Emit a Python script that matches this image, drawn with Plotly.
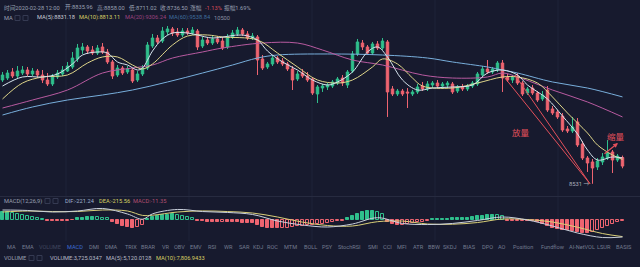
import pandas as pd
import plotly.graph_objects as go

# ---------------------------------------------------------------------------
# BTC 4-hour candles, last bar 2020-02-28 12:00
# ---------------------------------------------------------------------------
opens = [9735, 9758, 9828, 9781, 9816, 9851, 9805, 9839, 9793, 9735,
         9689, 9770, 9805, 9839, 9886, 9979, 10083, 10118, 10083, 10048,
         10118, 10060, 9944, 9793, 9874, 9828, 9851, 9735, 9805, 9874,
         10129, 10222, 10187, 10292, 10327, 10292, 10257, 10303, 10280, 10303,
         10129, 10199, 10164, 10211, 10187, 10118, 10234, 10269, 10315, 10269,
         10222, 10234, 9979, 9886, 9921, 9990, 9955, 9921, 9863, 9747,
         9816, 9781, 9747, 9573, 9642, 9654, 9665, 9700, 9758, 9677,
         9839, 10037, 10164, 10118, 10048, 10153, 10106, 10176, 9631, 9573,
         9607, 9596, 9573, 9596, 9665, 9631, 9677, 9700, 9665, 9677,
         9689, 9607, 9654, 9631, 9665, 9689, 9793, 9863, 9828, 9851,
         9932, 9770, 9735, 9781, 9700, 9584, 9642, 9584, 9515, 9619,
         9399, 9364, 9317, 9167, 9143, 9248, 8993, 8830, 8784, 8726,
         8784, 8830, 8900, 8807, 8835.96]
highs = [9828, 9851, 9874, 9897, 9897, 9886, 9874, 9863, 9851, 9816,
         9805, 9851, 9897, 9944, 10060, 10153, 10164, 10141, 10129, 10141,
         10164, 10095, 9967, 9909, 9897, 9897, 9874, 9839, 9909, 10176,
         10269, 10257, 10350, 10361, 10350, 10338, 10338, 10338, 10350, 10327,
         10234, 10234, 10245, 10245, 10234, 10269, 10315, 10350, 10338, 10303,
         10280, 10257, 10025, 9944, 10025, 10013, 9990, 9944, 9897, 9839,
         9863, 9828, 9770, 9677, 9689, 9700, 9735, 9770, 9793, 9851,
         10071, 10211, 10199, 10141, 10176, 10187, 10222, 10199, 9665, 9631,
         9631, 9642, 9619, 9689, 9712, 9723, 9723, 9735, 9712, 9723,
         9712, 9677, 9689, 9689, 9723, 9828, 9897, 9967, 9886, 9955,
         9967, 9805, 9793, 9816, 9723, 9654, 9677, 9607, 9607, 9665,
         9433, 9387, 9352, 9201, 9306, 9294, 9027, 8853, 8819, 8830,
         8888, 9039, 8923, 8877, 8858.00]
lows = [9712, 9735, 9758, 9758, 9793, 9781, 9781, 9758, 9700, 9665,
        9665, 9747, 9781, 9828, 9863, 9944, 10037, 10037, 10025, 10025,
        10037, 9921, 9747, 9770, 9793, 9805, 9700, 9712, 9781, 9851,
        10106, 10153, 10164, 10257, 10245, 10234, 10234, 10257, 10257, 10083,
        10106, 10141, 10141, 10153, 10083, 10095, 10211, 10245, 10245, 10199,
        10199, 9793, 9851, 9863, 9897, 9921, 9897, 9839, 9619, 9723,
        9758, 9712, 9561, 9468, 9596, 9619, 9642, 9677, 9665, 9642,
        9816, 10013, 10083, 10025, 10025, 10083, 10083, 9306, 9549, 9549,
        9549, 9410, 9549, 9573, 9607, 9607, 9642, 9642, 9631, 9642,
        9573, 9584, 9607, 9607, 9642, 9665, 9770, 9805, 9805, 9828,
        9596, 9712, 9700, 9677, 9549, 9561, 9561, 9480, 9491, 9364,
        9329, 9283, 9132, 9120, 9120, 8958, 8807, 8668, 8531, 8691,
        8749, 8807, 8656, 8784, 8711.02]
closes = [9793, 9816, 9781, 9839, 9851, 9805, 9839, 9793, 9735, 9689,
          9781, 9816, 9851, 9897, 9990, 10106, 10118, 10071, 10048, 10106,
          10060, 9944, 9781, 9874, 9816, 9863, 9723, 9805, 9874, 10141,
          10222, 10176, 10303, 10327, 10280, 10257, 10303, 10280, 10315, 10118,
          10199, 10164, 10211, 10176, 10106, 10234, 10280, 10315, 10269, 10222,
          10245, 9967, 9874, 9921, 9990, 9944, 9921, 9863, 9735, 9805,
          9781, 9735, 9584, 9654, 9665, 9677, 9712, 9747, 9700, 9828,
          10037, 10176, 10118, 10048, 10153, 10106, 10187, 9596, 9573, 9607,
          9573, 9584, 9596, 9654, 9631, 9689, 9700, 9665, 9689, 9700,
          9596, 9654, 9631, 9665, 9700, 9805, 9863, 9828, 9863, 9932,
          9758, 9735, 9770, 9700, 9573, 9631, 9584, 9503, 9561, 9387,
          9352, 9306, 9155, 9143, 9190, 8981, 8830, 8772, 8714, 8795,
          8842, 8888, 8807, 8853, 8736.50]

# Moving averages, sampled at candle indices
ma5_idx = [0, 4, 8, 11, 14, 16, 19, 21, 23, 25, 27, 28, 30, 32, 34, 37, 39, 42,
           48, 51, 53, 56, 59, 62, 65, 67, 70, 73, 75, 77, 80, 83, 86, 90, 94,
           97, 100, 103, 105, 109, 112, 115, 117, 119, 122, 124]
ma5_val = [9665, 9770, 9770, 9805, 9921, 10025, 10060, 10048, 9944, 9909,
           9851, 9874, 10071, 10211, 10280, 10280, 10257, 10222, 10257, 10199,
           10071, 9944, 9851, 9735, 9677, 9712, 9828, 10060, 10118, 10002,
           9735, 9619, 9642, 9654, 9677, 9816, 9851, 9793, 9677, 9515,
           9317, 9109, 8923, 8807, 8842, 8831.18]
ma10_idx = [0, 4, 8, 13, 17, 20, 23, 26, 28, 30, 34, 37, 41, 44, 51, 55, 59,
            63, 67, 70, 74, 76, 79, 82, 84, 90, 95, 100, 103, 107, 110, 113,
            117, 119, 122, 124]
ma10_val = [9515, 9700, 9770, 9793, 9932, 10002, 10002, 9909, 9863, 9921,
            10141, 10245, 10257, 10234, 10199, 10048, 9886, 9735, 9700, 9735,
            9886, 9979, 9921, 9758, 9665, 9642, 9700, 9770, 9770, 9700,
            9538, 9352, 9120, 8981, 8865, 8813.11]
ma20_idx = [0, 6, 13, 20, 26, 30, 34, 40, 44, 52, 59, 64, 70, 76, 84, 90, 97,
            100, 103, 110, 117, 124]
ma20_val = [9410, 9503, 9619, 9816, 9874, 9909, 9990, 10060, 10106, 10164,
            10164, 10083, 9967, 9909, 9793, 9758, 9770, 9816, 9770, 9619,
            9480, 9306.24]
ma60_idx = [0, 6, 13, 20, 26, 33, 40, 46, 51, 55, 65, 76, 85, 90, 97, 100,
            103, 110, 117, 124]
ma60_val = [9329, 9422, 9503, 9561, 9619, 9712, 9816, 9909, 9990, 10025,
            10037, 10025, 9990, 9944, 9886, 9851, 9816, 9712, 9642, 9538.84]

# MACD(12,26,9) histogram, one value per candle
macd_hist = [104, 104, 91, 78, 65, 52, 39, 26, 13,
             -13, -13, -13, -13, -10, -5,
             20, 30, 35, 38, 35, 30, 20,
             -26, -52, -78, -91, -104, -91, -65,
             13, 39, 52, 65, 70, 72, 68, 55, 42, 26,
             -13, -16, -22, -26, -26, -22, -26, -26, -30, -35, -39, -42,
             -65, -91, -104, -104, -108, -104, -100, -91,
             -80, -75, -65, -62, -55, -50,
             -39, -26, -15, -10,
             26, 52, 78, 104, 117, 117, 104, 78,
             -26, -52, -65, -62, -52, -39, -26, -20, -13,
             10, 12, 13, 15, 22, 26, 26, 30,
             39, 52, 55, 62, 65, 62, 52,
             -10, -13, -10, -8, -10, -13,
             -26, -52, -78, -100,
             -117, -125, -130, -140, -150, -165, -170, -156,
             -130, -104, -78,
             -52, -26, -11.35]
line_idx = [0, 5, 10, 15, 20, 25, 28, 30, 35, 40, 45, 50, 55, 60, 65, 70, 75,
            80, 85, 90, 95, 100, 105, 110, 115, 120, 124]
dif_val = [130, 124, 104, 117, 150, 78, 10, 80, 137, 110, 98, 72, -13, -65,
           -91, -52, 30, -45, -59, -45, -6, 39, 0, -78, -169, -228, -221.24]
dea_val = [104, 117, 110, 110, 130, 117, 60, 62, 104, 118, 110, 91, 39, -28,
           -72, -78, -22, -14, -52, -55, -33, 13, 6, -26, -94, -176, -215.56]

tabs = ["MA", "EMA", "VOLUME", "MACD", "DMI", "DMA", "TRIX", "BRAR", "VR",
        "OBV", "EMV", "RSI", "WR", "SAR", "KDJ", "ROC", "MTM", "BOLL", "PSY",
        "StochRSI", "SMI", "CCI", "MFI", "ATR", "BBW", "SKDJ", "BIAS", "DPO",
        "AO", "Position", "Fundflow", "AI-NetVOL", "LSUR", "BASIS"]
tab_x = [5, 20, 37, 65, 87, 103, 123, 139, 160, 172, 188, 206, 222, 237, 251,
         265, 282, 302, 320, 336, 366, 381, 395, 411, 426, 441, 461, 480, 496,
         511, 539, 567, 595, 614]

# ---------------------------------------------------------------------------
W, H = 640, 267
BG = "#171a2e"
UP = "#2fbf8c"
DOWN = "#ee6470"
MARK = "#e4505b"
FONT = "Roboto, Noto Sans CJK SC, sans-serif"
CJK = "Noto Sans CJK SC, sans-serif"
SMALL = 5.7

times = pd.date_range(end="2020-02-28 12:00", periods=len(closes), freq="4h")
step = pd.Timedelta(hours=4)
x_range = [times[0] - step / 2, times[-1] + step * 3.5]

fig = go.Figure()

fig.add_trace(go.Candlestick(
    x=times, open=opens, high=highs, low=lows, close=closes,
    increasing=dict(line=dict(color=UP, width=1), fillcolor=UP),
    decreasing=dict(line=dict(color=DOWN, width=1), fillcolor=DOWN),
    whiskerwidth=0, hoverinfo="skip", showlegend=False,
    xaxis="x", yaxis="y"))

for idx, vals, col in [(ma60_idx, ma60_val, "#78aedb"),
                       (ma20_idx, ma20_val, "#b85aa0"),
                       (ma10_idx, ma10_val, "#ded58a"),
                       (ma5_idx, ma5_val, "#d6e4ee")]:
    fig.add_trace(go.Scatter(
        x=[times[i] for i in idx], y=vals, mode="lines",
        line=dict(color=col, width=1, shape="spline", smoothing=1.0),
        hoverinfo="skip", showlegend=False, xaxis="x", yaxis="y"))

# MACD histogram: shrinking bars are drawn hollow
fills, edges = [], []
for k, v in enumerate(macd_hist):
    c = UP if v >= 0 else DOWN
    prev = macd_hist[k - 1] if k else 0
    hollow = k > 0 and (v * prev > 0) and abs(v) < abs(prev)
    fills.append(BG if hollow else c)
    edges.append(c)
fig.add_trace(go.Bar(
    x=times, y=macd_hist, width=step.total_seconds() * 1000 * 0.62,
    marker=dict(color=fills, line=dict(color=edges, width=1)),
    hoverinfo="skip", showlegend=False, xaxis="x2", yaxis="y2"))
fig.add_trace(go.Scatter(
    x=[times[i] for i in line_idx], y=dea_val, mode="lines",
    line=dict(color="#d9cf78", width=1, shape="spline"),
    hoverinfo="skip", showlegend=False, xaxis="x2", yaxis="y2"))
fig.add_trace(go.Scatter(
    x=[times[i] for i in line_idx], y=dif_val, mode="lines",
    line=dict(color="#c9d0dc", width=1, shape="spline"),
    hoverinfo="skip", showlegend=False, xaxis="x2", yaxis="y2"))


def py(p):
    return 1 - p / H


price_top, price_bot = 0, 196
macd_top, macd_bot = 197, 241
axis_common = dict(showgrid=False, zeroline=False, showticklabels=False,
                   showline=False, fixedrange=True)
fig.update_layout(
    width=W, height=H, margin=dict(l=0, r=0, t=0, b=0),
    paper_bgcolor=BG, plot_bgcolor=BG,
    xaxis=dict(domain=[0, 1], range=x_range, type="date",
               rangeslider=dict(visible=False), anchor="y", **axis_common),
    yaxis=dict(domain=[py(price_bot), py(price_top)], range=[8389.4, 10663],
               anchor="x", **axis_common),
    xaxis2=dict(domain=[0, 1], range=x_range, type="date", anchor="y2",
                matches="x", **axis_common),
    yaxis2=dict(domain=[py(macd_bot), py(macd_top)], range=[-273, 299],
                anchor="x2", **axis_common),
    bargap=0, dragmode=False,
)

# faint vertical grid and the panel separator
for gx in [66, 189, 312, 435, 558]:
    fig.add_shape(type="line", xref="paper", yref="paper",
                  x0=gx / W, x1=gx / W, y0=py(241), y1=py(0),
                  line=dict(color="#1f2338", width=1), layer="below")
fig.add_shape(type="line", xref="paper", yref="paper", x0=0, x1=1,
              y0=py(196.5), y1=py(196.5), line=dict(color="#272b40", width=1))

# drawn trend lines converging on the low
for x_start, y_start in [(times[100] + step / 2, closes[100]),
                         (times[102] + step / 2, highs[102])]:
    fig.add_shape(type="line", xref="x", yref="y",
                  x0=x_start, y0=y_start,
                  x1=times[118] - step / 2, y1=lows[118],
                  line=dict(color=MARK, width=1))


def txt(s, x, y, color, size=SMALL, family=FONT, anchor="left"):
    fig.add_annotation(text=s, x=x / W, y=py(y), xref="paper", yref="paper",
                       xanchor=anchor, yanchor="middle", showarrow=False,
                       font=dict(size=size, color=color, family=family))


def boxes(x, y):
    for bx in (x, x + 8):
        fig.add_shape(type="rect", xref="paper", yref="paper",
                      x0=bx / W, x1=(bx + 5) / W, y0=py(y + 2.5), y1=py(y - 2.5),
                      line=dict(color="#353a52", width=1))


GREY = "#9aa0b2"
YEL = "#d8d064"
# header: bar details
txt("时间2020-02-28 12:00", 2, 8, GREY)
txt("开:8835.96", 63, 8, GREY)
txt("高:8858.00", 95, 8, GREY)
txt("低:8711.02", 127, 8, GREY)
txt("收:8736.50", 158, 8, GREY)
txt("涨幅", 188, 8, GREY)
txt("-1.13%", 203, 8, "#d24a58")
txt("振幅1.69%", 222, 8, GREY)
# header: moving averages
txt("MA", 2, 18, GREY)
boxes(15, 18)
txt("MA(5):8831.18", 35, 18, "#c8ccd6")
txt("MA(10):8813.11", 77, 18, YEL)
txt("MA(20):9306.24", 123, 18, "#9b437f")
txt("MA(60):9538.84", 167, 18, "#3f6e9e")
txt("10500", 212, 18, "#8a8fa0")

# MACD legend
txt("MACD(12,26,9)", 2, 201, GREY)
boxes(45, 201)
txt("DIF:-221.24", 63, 201, "#9fb0cc")
txt("DEA:-215.56", 97, 201, YEL)
txt("MACD:-11.35", 131, 201, "#b24f70")

# indicator tabs
for name, tx in zip(tabs, tab_x):
    col = "#3c6cd0" if name == "MACD" else ("#40465e" if name == "VOLUME" else "#737a8e")
    txt(name, tx, 247, col, size=5.6)

# volume legend
txt("VOLUME", 2, 258, GREY)
boxes(29, 258)
txt("VOLUME:3,725.0347", 48, 258, "#b8bcc8")
txt("MA(5):5,120.0128", 104, 258, "#b8bcc8")
txt("MA(10):7,806.9433", 154, 258, YEL)

# price annotations
fig.add_annotation(text="8531 →", x=times[118], y=lows[118], xref="x", yref="y",
                   xanchor="right", yanchor="middle", xshift=-2, showarrow=False,
                   font=dict(size=5.8, color="#a9aebc", family=FONT))
txt("放量", 521, 132, MARK, size=8.5, family=CJK, anchor="center")
txt("缩量", 616, 136, MARK, size=8.5, family=CJK, anchor="center")
fig.add_annotation(x=618 / W, y=py(143), xref="paper", yref="paper",
                   ax=-15, ay=12, axref="pixel", ayref="pixel", text="",
                   showarrow=True, arrowhead=2, arrowsize=0.8, arrowwidth=1.2,
                   arrowcolor=MARK)

fig.write_html("out.html", config={"displayModeBar": False})
